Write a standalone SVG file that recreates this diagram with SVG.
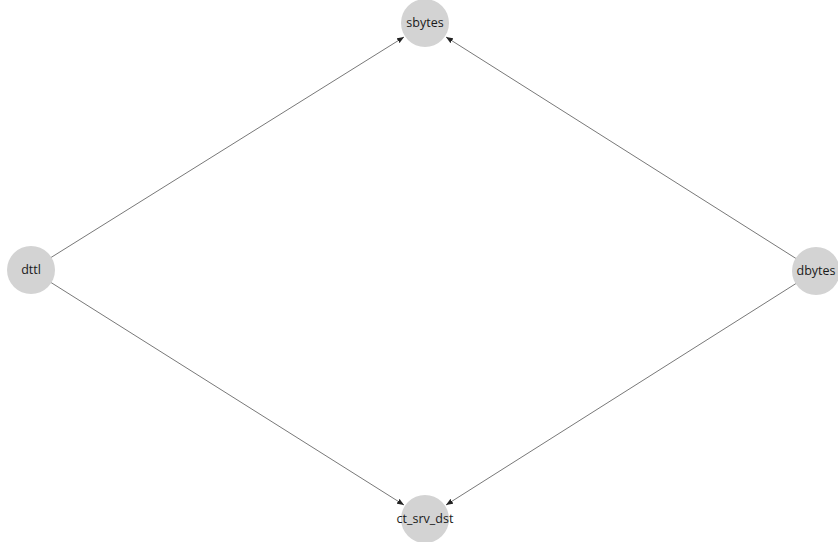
<svg xmlns="http://www.w3.org/2000/svg" width="838" height="542" viewBox="0 0 838 542">
<style>
.node circle{fill:#d3d3d3;stroke:none}
.node text{font-family:"Open Sans","Liberation Sans",sans-serif;font-size:12.5px;fill:#1a1a1a;text-anchor:middle;dominant-baseline:central}
.edges line{stroke:#555;stroke-width:0.8;marker-end:url(#arr)}
</style>
<defs>
<marker id="arr" viewBox="0 0 10 10" refX="10" refY="5" markerWidth="7" markerHeight="7" markerUnits="userSpaceOnUse" orient="auto">
<path d="M0,1 L10,5 L0,9 z" fill="#222"/>
</marker>
</defs>
<rect width="838" height="542" fill="#fff"/>
<g class="edges">
<line x1="51" y1="257.5" x2="404" y2="37"/>
<line x1="796" y1="258.5" x2="446" y2="37"/>
<line x1="51" y1="282.5" x2="404" y2="505"/>
<line x1="796" y1="283.5" x2="446" y2="505"/>
</g>
<g id="sbytes" class="node"><circle cx="425" cy="23" r="24"/><text x="425" y="22">sbytes</text></g>
<g id="dttl" class="node"><circle cx="31" cy="270" r="24"/><text x="31" y="269">dttl</text></g>
<g id="dbytes" class="node"><circle cx="816" cy="271" r="24"/><text x="816" y="270">dbytes</text></g>
<g id="ct_srv_dst" class="node"><circle cx="425" cy="519" r="24"/><text x="425" y="518">ct_srv_dst</text></g>
</svg>
